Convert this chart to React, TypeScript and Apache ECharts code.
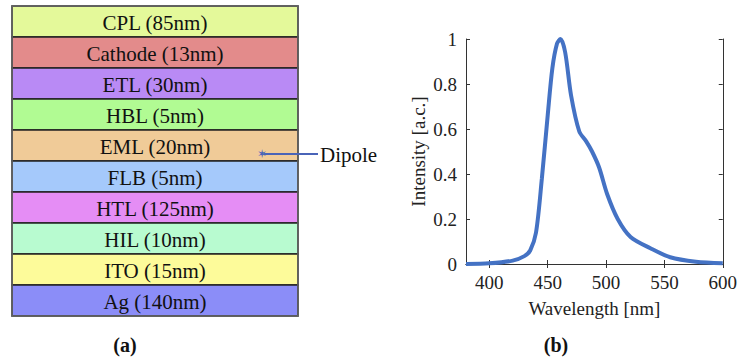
import React, { useEffect, useRef } from "react";
import * as echarts from "echarts";

const layerNames = ["CPL", "Cathode", "ETL", "HBL", "EML", "FLB", "HTL", "HIL", "ITO", "Ag"];
const layerThickness = [85, 13, 30, 5, 20, 5, 125, 10, 15, 140];
const layerColors = ["#e4f99a", "#e38b8b", "#b98af5", "#b1fb93", "#f0cb98", "#a5c9fb", "#e58df5", "#b8fbd0", "#fdfb9a", "#8b8df8"];

const wavelengths = [380, 400, 420, 430, 435, 440, 445, 450, 454, 458, 461, 465, 470, 477, 483, 488, 494, 501, 510, 521, 538, 555, 577, 600];
const intensity = [0, 0.003, 0.015, 0.035, 0.06, 0.14, 0.38, 0.66, 0.87, 0.98, 1.0, 0.94, 0.75, 0.59, 0.545, 0.5, 0.43, 0.31, 0.2, 0.12, 0.07, 0.03, 0.01, 0.003];

const xTicks = [400, 450, 500, 550, 600];
const yTicks = [0, 0.2, 0.4, 0.6, 0.8, 1];

const SERIF = "'Liberation Serif', 'DejaVu Serif', serif";

export default function App() {
  const ref = useRef<HTMLDivElement>(null);
  useEffect(() => {
    document.body.style.margin = "0";
    const chart = echarts.init(ref.current!, null, { renderer: "svg" });
    const stackX = 12;
    const stackW = 286;
    const stackTop = 6;
    const layerH = 31;
    const graphics: any[] = [];
    layerNames.forEach((n, i) => {
      graphics.push({
        type: "rect",
        shape: { x: stackX, y: stackTop + i * layerH, width: stackW, height: layerH },
        style: { fill: layerColors[i], stroke: "#222", lineWidth: 1.5 },
      });
    });
    graphics.push({
      type: "rect",
      shape: { x: stackX, y: stackTop, width: stackW, height: layerH * layerNames.length },
      style: { fill: "none", stroke: "#666", lineWidth: 1.5 },
    });
    layerNames.forEach((n, i) => {
      graphics.push({
        type: "text",
        x: stackX + stackW / 2,
        y: stackTop + i * layerH + layerH / 2 + 1,
        style: {
          text: `${n} (${layerThickness[i]}nm)`,
          font: `21px ${SERIF}`,
          fill: "#111",
          align: "center",
          verticalAlign: "middle",
        },
      });
    });
    // dipole
    graphics.push({
      type: "line",
      shape: { x1: 264, y1: 154, x2: 318, y2: 154 },
      style: { stroke: "#4a64b8", lineWidth: 2 },
    });
    graphics.push({
      type: "text",
      x: 262,
      y: 154,
      style: { text: "✶", font: `12px 'DejaVu Sans'`, fill: "#4a64b8", align: "center", verticalAlign: "middle" },
    });
    graphics.push({
      type: "text",
      x: 320,
      y: 155,
      style: { text: "Dipole", font: `21px ${SERIF}`, fill: "#111", align: "left", verticalAlign: "middle" },
    });
    graphics.push({
      type: "text",
      x: 125,
      y: 345,
      style: { text: "(a)", font: `bold 20px ${SERIF}`, fill: "#111", align: "center", verticalAlign: "middle" },
    });
    graphics.push({
      type: "text",
      x: 556,
      y: 345,
      style: { text: "(b)", font: `bold 20px ${SERIF}`, fill: "#111", align: "center", verticalAlign: "middle" },
    });

    const labelStyle = { fontFamily: SERIF, fontSize: 19, color: "#222" };
    const tickInside = { show: true, inside: true, length: 4, lineStyle: { color: "#333", width: 1 } };
    const line = { show: true, lineStyle: { color: "#333", width: 1 } };

    chart.setOption({
      animation: false,
      grid: { left: 466, top: 39, width: 261, height: 225, containLabel: false },
      graphic: graphics,
      xAxis: [
        {
          type: "value",
          min: 380,
          max: 600,
          interval: 50,
          position: "bottom",
          axisLine: line,
          axisTick: { ...tickInside, customValues: xTicks },
          axisLabel: { ...labelStyle, margin: 9, customValues: xTicks },
          splitLine: { show: false },
          name: "Wavelength [nm]",
          nameLocation: "middle",
          nameGap: 35,
          nameTextStyle: { fontFamily: SERIF, fontSize: 19, color: "#222" },
        },
        {
          type: "value",
          min: 380,
          max: 600,
          position: "top",
          axisLine: line,
          axisTick: { ...tickInside, customValues: xTicks },
          axisLabel: { show: false },
          splitLine: { show: false },
        },
      ],
      yAxis: [
        {
          type: "value",
          min: 0,
          max: 1,
          interval: 0.2,
          position: "left",
          axisLine: line,
          axisTick: tickInside,
          axisLabel: {
            ...labelStyle,
            margin: 9,
            customValues: yTicks,
            formatter: (v: number) => (v === 0 || v === 1 ? String(v) : v.toFixed(1)),
          },
          splitLine: { show: false },
          name: "Intensity [a.c.]",
          nameLocation: "middle",
          nameGap: 38,
          nameTextStyle: { fontFamily: SERIF, fontSize: 19, color: "#222" },
        },
        {
          type: "value",
          min: 0,
          max: 1,
          interval: 0.2,
          position: "right",
          axisLine: line,
          axisTick: tickInside,
          axisLabel: { show: false },
          splitLine: { show: false },
        },
      ],
      series: [
        {
          type: "line",
          data: wavelengths.map((w, i) => [w, intensity[i]]),
          smooth: 0.3,
          showSymbol: false,
          lineStyle: { color: "#4472c4", width: 4 },
          xAxisIndex: 0,
          yAxisIndex: 0,
        },
      ],
    });
    return () => chart.dispose();
  }, []);
  return <div ref={ref} style={{ width: 740, height: 360 }} />;
}
